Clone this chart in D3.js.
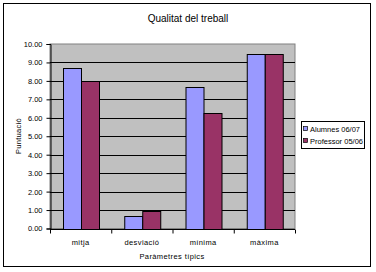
<!DOCTYPE html>
<html>
<head>
<meta charset="utf-8">
<script src="https://d3js.org/d3.v7.min.js"></script>
<style>
  body { margin: 0; background: #fff; }
  text { font-family: "Liberation Sans", Arial, sans-serif; fill: #000; }
</style>
</head>
<body>
<svg id="chart" width="376" height="272"></svg>
<script>
  const categories = ["mitja", "desviació", "mínima", "màxima"];
  const seriesNames = ["Alumnes 06/07", "Professor 05/06"];
  const alumnes = [8.68, 0.66, 7.69, 9.47];
  const professor = [7.98, 0.97, 6.28, 9.47];
  const yTicks = [0, 1, 2, 3, 4, 5, 6, 7, 8, 9, 10];
  const colors = ["#9999ff", "#993366"];

  const svg = d3.select("#chart");

  // outer chart border
  svg.append("rect")
    .attr("x", 3.5).attr("y", 3.5)
    .attr("width", 367).attr("height", 263)
    .attr("fill", "#fff").attr("stroke", "#000");

  const plot = {left: 50, right: 295, top: 44, bottom: 228.5};

  const x0 = d3.scaleBand().domain(categories).range([plot.left, plot.right]).padding(0);
  const x1 = d3.scaleBand().domain(seriesNames).range([0, x0.bandwidth()])
    .paddingInner(0).paddingOuter(0.75);
  const y = d3.scaleLinear().domain([0, 10]).range([plot.bottom, plot.top]);

  // plot area
  svg.append("rect")
    .attr("x", plot.left).attr("y", plot.top)
    .attr("width", plot.right - plot.left).attr("height", plot.bottom - plot.top)
    .attr("fill", "#c0c0c0").attr("stroke", "#808080");

  // gridlines
  svg.append("g")
    .selectAll("line")
    .data(yTicks.filter(d => d > 0 && d < 10))
    .enter().append("line")
    .attr("x1", plot.left).attr("x2", plot.right)
    .attr("y1", d => Math.round(y(d)) + 0.5).attr("y2", d => Math.round(y(d)) + 0.5)
    .attr("stroke", "#000");

  // bars
  const rows = categories.map((c, i) => ({categ: c, values: [alumnes[i], professor[i]]}));
  const groups = svg.append("g").selectAll("g")
    .data(rows)
    .enter().append("g")
    .attr("transform", d => `translate(${x0(d.categ)},0)`);

  groups.selectAll("rect")
    .data(d => d.values.map((v, j) => ({name: seriesNames[j], v: v, j: j})))
    .enter().append("rect")
    .attr("x", d => Math.round(x1(d.name)) + 0.5)
    .attr("y", d => Math.round(y(d.v)) + 0.5)
    .attr("width", Math.round(x1.bandwidth()))
    .attr("height", d => Math.round(plot.bottom) - Math.round(y(d.v)))
    .attr("fill", d => colors[d.j])
    .attr("stroke", "#000");

  // y axis
  const yAxis = svg.append("g")
    .attr("transform", `translate(${plot.left + 0.5},0)`)
    .call(d3.axisLeft(y).tickValues(yTicks).tickFormat(d3.format(".2f")).tickSize(4).tickPadding(4));
  yAxis.selectAll("path, line").attr("stroke", "#000");
  yAxis.selectAll("text").style("font-size", "7.5px").attr("font-family", null);

  // x axis
  const xAxis = svg.append("g")
    .attr("transform", `translate(0,${Math.round(plot.bottom) + 0.5})`)
    .call(d3.axisBottom(d3.scaleLinear().domain([0, 4]).range([plot.left, plot.right]))
      .ticks(4).tickSize(4).tickFormat(""));
  xAxis.selectAll("path, line").attr("stroke", "#000");
  xAxis.select("path").attr("d", `M${plot.left},0H${plot.right}`);

  svg.append("g").selectAll("text")
    .data(categories)
    .enter().append("text")
    .attr("x", d => x0(d) + x0.bandwidth() / 2)
    .attr("y", 245)
    .attr("text-anchor", "middle")
    .style("font-size", "7.5px")
    .style("letter-spacing", "0.4px")
    .text(d => d);

  // titles
  svg.append("text")
    .attr("x", 188).attr("y", 22)
    .attr("text-anchor", "middle")
    .style("font-size", "10px")
    .text("Qualitat del treball");

  svg.append("text")
    .attr("x", 172).attr("y", 259)
    .attr("text-anchor", "middle")
    .style("font-size", "7.5px")
    .style("letter-spacing", "0.4px")
    .text("Paràmetres típics");

  svg.append("text")
    .attr("transform", "translate(21,136) rotate(-90)")
    .attr("text-anchor", "middle")
    .style("font-size", "7.5px")
    .style("letter-spacing", "0.3px")
    .text("Puntuació");

  // legend
  const legend = svg.append("g").attr("transform", "translate(301.5,121.5)");
  legend.append("rect")
    .attr("width", 63).attr("height", 27)
    .attr("fill", "#fff").attr("stroke", "#000");
  const items = legend.selectAll("g.item")
    .data(seriesNames)
    .enter().append("g")
    .attr("class", "item")
    .attr("transform", (d, i) => `translate(2,${5 + i * 12})`);
  items.append("rect")
    .attr("width", 4).attr("height", 4)
    .attr("fill", (d, i) => colors[i]).attr("stroke", "#000").attr("stroke-width", 0.7);
  items.append("text")
    .attr("x", 6.5).attr("y", 5)
    .style("font-size", "7px")
    .attr("textLength", d => d.length > 13 ? 53 : 50)
    .attr("lengthAdjust", "spacingAndGlyphs")
    .text(d => d);
</script>
</body>
</html>
